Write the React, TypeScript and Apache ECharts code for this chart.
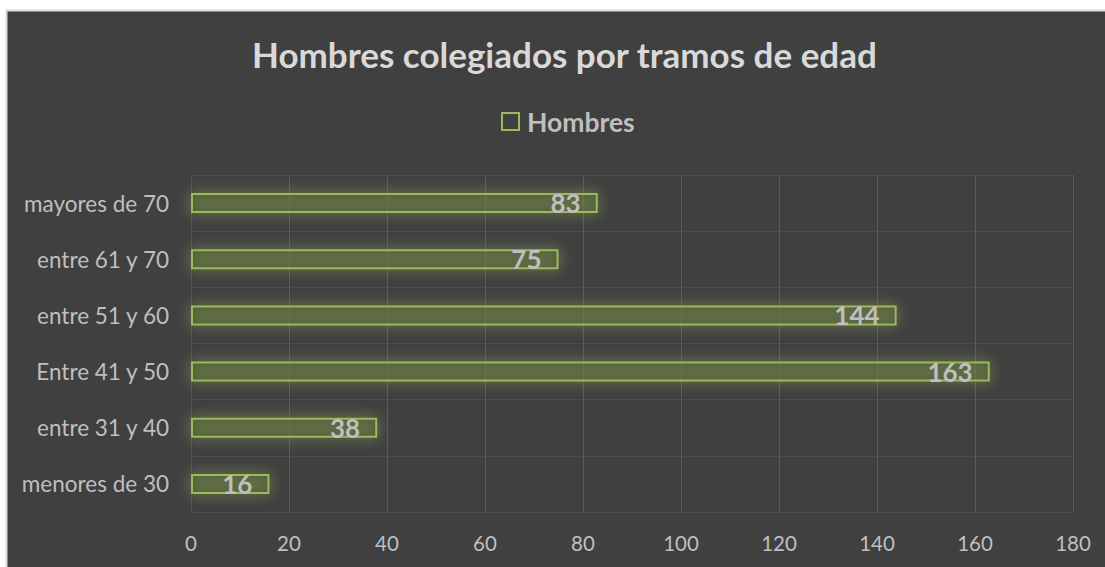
import React, { useEffect, useRef } from "react";
import * as echarts from "echarts";

const categories = ["menores de 30", "entre 31 y 40", "Entre 41 y 50", "entre 51 y 60", "entre 61 y 70", "mayores de 70"];
const hombres = [16, 38, 163, 144, 75, 83];
const titleText = "Hombres colegiados por tramos de edad";
const seriesName = "Hombres";

export default function App() {
  const ref = useRef<HTMLDivElement>(null);
  useEffect(() => {
    if (!ref.current) return;
    const chart = echarts.init(ref.current, null, { renderer: "svg" });
    const font = "Lato, 'Open Sans', sans-serif";
    chart.setOption({
      animation: false,
      backgroundColor: "#ffffff",
      graphic: [
        {
          type: "rect",
          z: -10,
          silent: true,
          shape: { x: 6.5, y: 10.5, width: 1110, height: 570 },
          style: { fill: "#404040", stroke: "#d9d9d9", lineWidth: 2 },
        },
      ],
      title: {
        text: titleText,
        left: 247,
        top: 31,
        textStyle: { color: "#d9d9d9", fontSize: 35, fontWeight: "bold", fontFamily: font },
      },
      legend: {
        top: 103,
        left: 496,
        itemWidth: 17,
        itemHeight: 17,
        itemGap: 5,
        icon: "rect",
        textStyle: { color: "#bfbfbf", fontSize: 26.5, fontWeight: "bold", fontFamily: font, padding: [0, 0, 0, 3] },
        data: [{ name: seriesName, itemStyle: { color: "transparent", borderColor: "#9bbb59", borderWidth: 2 } }],
      },
      grid: { left: 191, right: 32, top: 175, bottom: 55, containLabel: false },
      xAxis: {
        type: "value",
        min: 0,
        max: 180,
        interval: 20,
        axisLine: { show: false },
        axisTick: { show: false },
        axisLabel: { color: "#bfbfbf", fontSize: 20.5, fontFamily: font, margin: 20 },
        splitLine: { show: true, lineStyle: { color: "#5a5a5a", width: 1 } },
      },
      yAxis: {
        type: "category",
        data: categories,
        axisLine: { show: true, lineStyle: { color: "#555555" } },
        axisTick: { show: false },
        axisLabel: { color: "#bfbfbf", fontSize: 22.5, fontFamily: font, margin: 22 },
        splitLine: { show: true, lineStyle: { color: "#4b4b4b", width: 1 } },
      },
      series: [
        {
          name: seriesName,
          type: "bar",
          data: hombres,
          barWidth: 20,
          itemStyle: {
            color: "rgba(80,92,58,0.4)",
            borderColor: "#9bbb59",
            borderWidth: 2,
            shadowColor: "rgba(155,187,89,0.85)",
            shadowBlur: 14,
          },
          label: {
            show: true,
            position: "insideRight",
            distance: 17,
            color: "#bfbfbf",
            fontSize: 26,
            fontWeight: "bold",
            fontFamily: font,
          },
        },
      ],
    });
    return () => chart.dispose();
  }, []);
  return <div ref={ref} style={{ position: "absolute", left: 0, top: 0, width: 1105, height: 567 }} />;
}
